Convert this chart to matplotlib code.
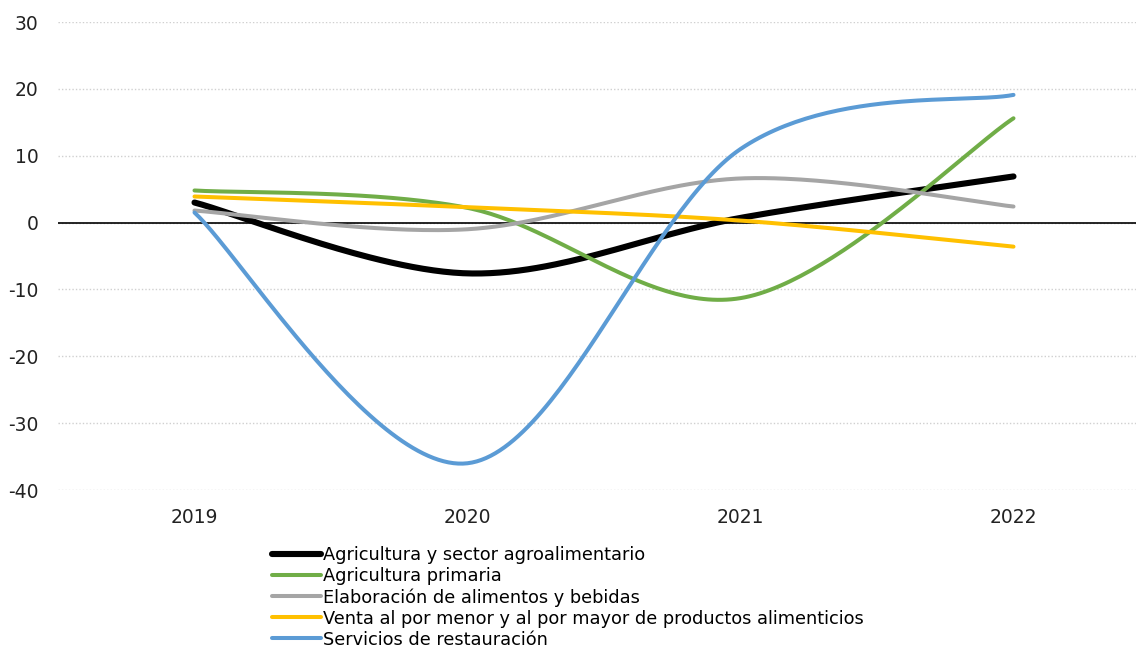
import numpy as np
import matplotlib.pyplot as plt

plt.rcParams["font.family"] = ["DejaVu Sans"]
plt.rcParams["axes.unicode_minus"] = False

years = ["2019", "2020", "2021", "2022"]

agro_total = [3.0, -7.6, 0.7, 6.9]
agri_primaria = [4.8, 2.2, -11.3, 15.6]
elaboracion = [1.8, -1.0, 6.6, 2.4]
venta = [3.9, 2.3, 0.3, -3.6]
restauracion = [1.5, -36.0, 11.0, 19.1]

series = [
    ("Agricultura y sector agroalimentario", agro_total, "#000000", 4.4),
    ("Agricultura primaria", agri_primaria, "#70AD47", 2.9),
    ("Elaboración de alimentos y bebidas", elaboracion, "#A5A5A5", 2.9),
    ("Venta al por menor y al por mayor de productos alimenticios", venta, "#FFC000", 2.9),
    ("Servicios de restauración", restauracion, "#5B9BD5", 2.9),
]


def smooth(xs, ys, n=60):
    # bezier segments with catmull-rom style control points
    pts = np.column_stack([xs, ys]).astype(float)
    ext = np.vstack([pts[0], pts, pts[-1]])
    out = []
    t = np.linspace(0, 1, n)[:, None]
    for i in range(len(pts) - 1):
        p0 = ext[i + 1]
        p3 = ext[i + 2]
        c1 = p0 + (ext[i + 2] - ext[i]) / 6
        c2 = p3 - (ext[i + 3] - ext[i + 1]) / 6
        seg = ((1 - t) ** 3) * p0 + 3 * ((1 - t) ** 2) * t * c1 + 3 * (1 - t) * t ** 2 * c2 + t ** 3 * p3
        out.append(seg if i == 0 else seg[1:])
    out = np.vstack(out)
    return out[:, 0], out[:, 1]


fig = plt.figure(figsize=(11.36, 6.45), dpi=100)
ax = fig.add_axes([58 / 1136, 1 - 490 / 645, (1150 - 58) / 1136, 468 / 645])

x = np.arange(len(years))
for name, vals, color, lw in series:
    sx, sy = smooth(x, vals)
    ax.plot(sx, sy, color=color, lw=lw, label=name, solid_capstyle="round", zorder=3)

ax.set_xlim(-0.5, 3.5)
ax.set_ylim(-40, 30)
ax.set_yticks(range(-40, 31, 10))
ax.set_xticks(x)
ax.set_xticklabels(years)
ax.grid(axis="y", color="#d0d0d0", linestyle=(0, (1, 1.5)), lw=1, zorder=0)
ax.set_axisbelow(True)
ax.axhline(0, color="black", lw=1.2, zorder=2)
for s in ax.spines.values():
    s.set_visible(False)
ax.tick_params(length=0, labelsize=13.5, colors="#222222")
ax.tick_params(axis="y", pad=14)
ax.tick_params(axis="x", pad=13)

fig.legend(loc="upper left", bbox_to_anchor=(272 / 1136, 1 - 546 / 645),
           frameon=False, fontsize=12.8, handlelength=2.75, handletextpad=0.1,
           labelspacing=0.17, borderpad=0, borderaxespad=0)

fig.savefig("out.png", dpi=100)
